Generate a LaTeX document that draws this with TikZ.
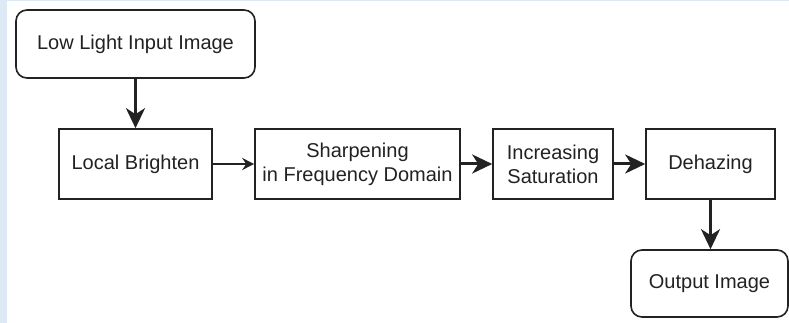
\documentclass[tikz,border=0pt]{standalone}
\usepackage{fontspec}
\setmainfont{Liberation Sans}
\usetikzlibrary{arrows.meta}
\definecolor{pagebg}{RGB}{222,233,246}
\definecolor{ink}{RGB}{34,34,34}
\begin{document}
\begin{tikzpicture}[x=1pt,y=-1pt,
  box/.style={draw=ink, line width=1.6pt, text=ink, fill=white,
    font=\fontsize{20}{24}\selectfont, align=center, inner sep=0pt},
  roundbox/.style={box, rounded corners=11pt},
  thinarrow/.style={draw=ink, line width=1.6pt,
    -{Stealth[length=12pt,width=12pt,inset=4pt]}},
  thickarrow/.style={draw=ink, line width=3pt,
    -{Stealth[length=20pt,width=19pt,inset=6pt]}}]
% page background with its pale blue margins
\fill[white] (0,0) rectangle (789,323);
\fill[pagebg] (0,0) rectangle (7,323);
\fill[pagebg] (0,0) rectangle (789,1.5);
\useasboundingbox (0,0) rectangle (789,323);

% processing stages
\node[roundbox, minimum width=239pt, minimum height=68pt] (in) at (135.5,44) {Low Light Input Image};
\node[box, minimum width=153pt, minimum height=70pt] (lb) at (135.5,164) {Local Brighten};
\node[box, minimum width=205pt, minimum height=70pt] (sh) at (357.5,164) {Sharpening\\in Frequency Domain};
\node[box, minimum width=120pt, minimum height=70pt] (sat) at (553,164) {Increasing\\Saturation};
\node[box, minimum width=129pt, minimum height=70pt] (dh) at (710.5,164) {Dehazing};
\node[roundbox, minimum width=157pt, minimum height=67pt] (out) at (709.5,283.5) {Output Image};

% flow between stages
\draw[thickarrow] (in) -- (lb);
\draw[thinarrow] (lb) -- (sh);
\draw[thickarrow] (sh) -- (sat);
\draw[thickarrow] (sat) -- (dh);
\draw[thickarrow] (dh.south) -- (dh.south |- out.north);
\end{tikzpicture}
\end{document}
